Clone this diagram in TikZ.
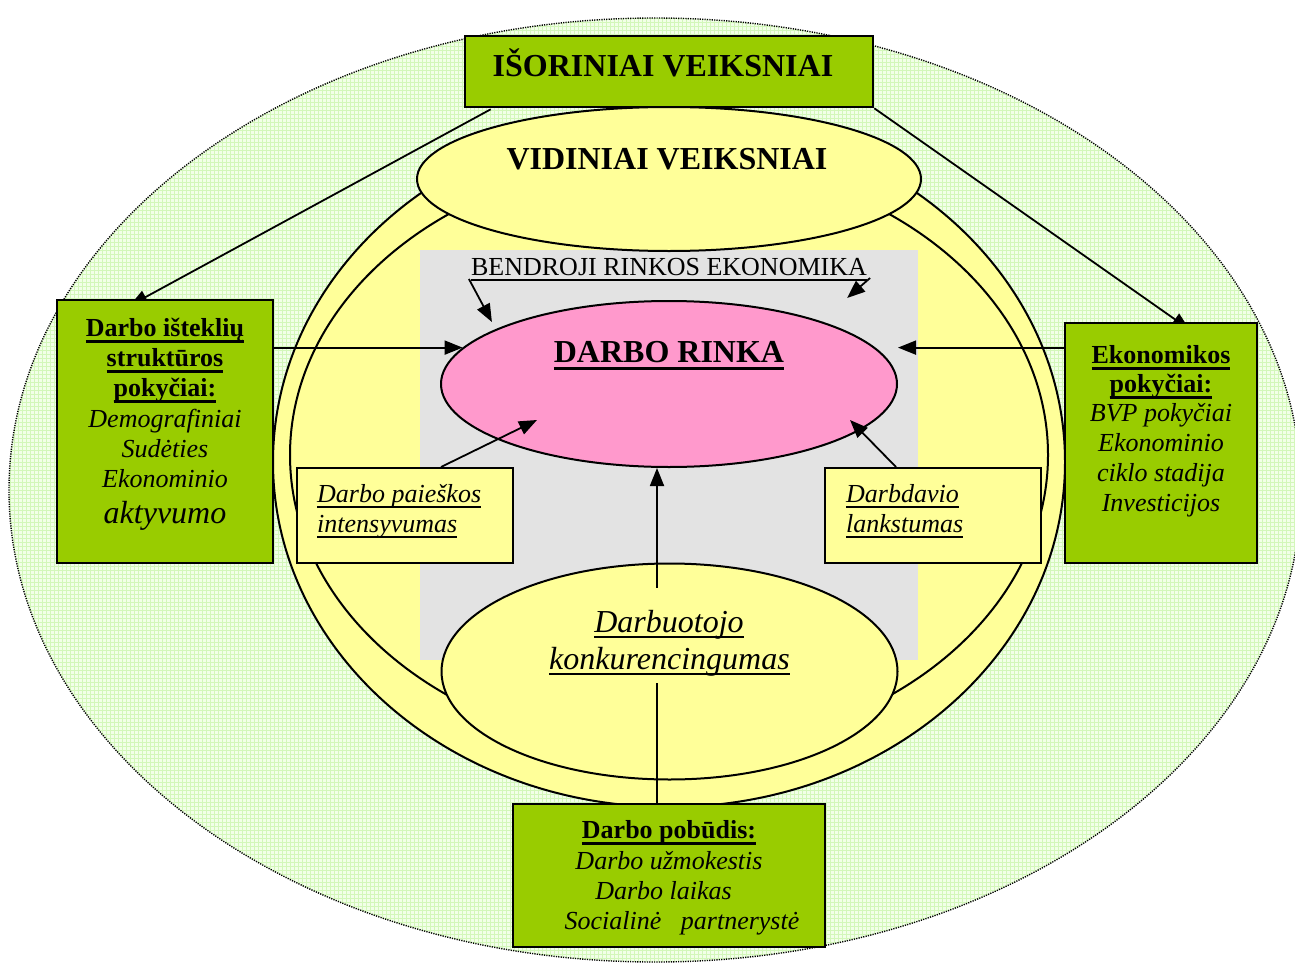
\documentclass[tikz,border=0pt]{standalone}
\usepackage{fontspec}
\setmainfont{Liberation Serif}
\usetikzlibrary{arrows.meta,calc,shapes.geometric}
\pgfdeclarelayer{bg}
\pgfdeclarelayer{mid}
\pgfsetlayers{bg,mid,main}

\definecolor{boxgreen}{HTML}{99CC00}
\definecolor{paleyellow}{HTML}{FFFF99}
\definecolor{rosepink}{HTML}{FF99CC}
\definecolor{panelgrey}{HTML}{E3E3E3}
\definecolor{meadow}{HTML}{F2FFE8}
\definecolor{meadowgrid}{HTML}{D3F7BA}

% underline at a fixed depth below the baseline: depth, thickness, text
\newcommand{\undl}[3]{\setbox0\hbox{#3}\rlap{\rule[-#1]{\wd0}{#2}}\box0}

\tikzset{
  oval/.style={draw, line width=2pt, ellipse, inner sep=0pt},
  gbox/.style={draw, line width=2.6pt, fill=boxgreen, rectangle, inner sep=0pt},
  ybox/.style={draw, line width=2pt, fill=paleyellow, rectangle, inner sep=0pt},
  arr/.style={line width=1.8pt, -{Triangle[length=18pt,width=14pt]}},
  plain/.style={line width=1.8pt},
  big/.style={font=\fontsize{32}{37}\selectfont\bfseries, inner sep=0pt, anchor=base},
  tb/.style={font=\fontsize{26}{30}\selectfont\bfseries, inner sep=0pt, anchor=base},
  ti/.style={font=\fontsize{26}{30}\selectfont\itshape, inner sep=0pt, anchor=base},
  tibig/.style={font=\fontsize{32}{37}\selectfont\itshape, inner sep=0pt, anchor=base},
  tr/.style={font=\fontsize{26}{30}\selectfont, inner sep=0pt, anchor=base},
}

\begin{document}
\begin{tikzpicture}[x=1pt,y=-1pt]
\useasboundingbox (0,0) rectangle (1295,966);

\begin{pgfonlayer}{bg}
  % outer field with its fine grid and dotted rim
  \begin{scope}
    \clip (655,490) ellipse [x radius=646pt, y radius=472pt];
    \fill[meadow] (0,0) rectangle (1302,966);
    \foreach \i in {2,6,...,1302} \draw[meadowgrid, line width=0.6pt] (\i,0) -- (\i,966);
    \foreach \j in {2,6,...,966} \draw[meadowgrid, line width=0.6pt] (0,\j) -- (1302,\j);
  \end{scope}
  \draw[line width=1.4pt, dash pattern=on 1.2pt off 1.2pt] (655,490) ellipse [x radius=646pt, y radius=472pt];

  % the two yellow rings
  \node[oval, fill=paleyellow, minimum width=792pt, minimum height=690pt] (ringout) at (669,462) {};
  \node[oval, fill=paleyellow, minimum width=758pt, minimum height=592pt] (ringin) at (669,455) {};
\end{pgfonlayer}

% grey panel of the general market economy
\node[fill=panelgrey, minimum width=498pt, minimum height=410pt, inner sep=0pt] (panel) at (669,455) {};

% ellipses
\node[oval, fill=paleyellow, minimum width=504pt, minimum height=144pt] (vid) at (669,179) {};
\node[oval, fill=rosepink, minimum width=456pt, minimum height=166pt] (rinka) at (669,384) {};
\node[oval, fill=paleyellow, minimum width=456pt, minimum height=216pt] (konk) at (669.5,671.5) {};

% boxes
\node[gbox, minimum width=408pt, minimum height=71pt] (isor) at (669,71.5) {};
\node[gbox, minimum width=216pt, minimum height=263pt] (lbox) at (165,431.5) {};
\node[gbox, minimum width=192pt, minimum height=240pt] (rbox) at (1161,443) {};
\node[gbox, minimum width=312pt, minimum height=143pt] (pob) at (669,875.5) {};
\node[ybox, minimum width=216pt, minimum height=95pt] (pbox) at (405,515.5) {};
\node[ybox, minimum width=216pt, minimum height=95pt] (dbox) at (933,515.5) {};

% connectors from the external factors, tucked under the boxes
\begin{pgfonlayer}{mid}
  \draw[arr] ($(isor.south west)+(27,1)$) -- ($(lbox.north west)+(74,7)$);
  \draw[arr] (isor.south east) -- ($(rbox.north west)+(126,8)$);
\end{pgfonlayer}

% titles
\node[big] (isortxt) at (663,77) {IŠORINIAI VEIKSNIAI};
\node[big] (vidtxt) at (667,169) {VIDINIAI VEIKSNIAI};
\node[tr] (bend) at (669,275) {\undl{6pt}{1.6pt}{BENDROJI RINKOS EKONOMIKA}};
\node[big] (rinkatxt) at (669,362) {\undl{8pt}{3.5pt}{DARBO RINKA}};

% labour resources box
\node[tb] (l1) at (165,336) {\undl{6.5pt}{2.8pt}{Darbo išteklių}};
\node[tb] (l2) at (165,366) {\undl{6.5pt}{2.8pt}{struktūros}};
\node[tb] (l3) at (165,396) {\undl{6.5pt}{2.8pt}{pokyčiai:}};
\node[ti] (l4) at (165,427) {Demografiniai};
\node[ti] (l5) at (165,457) {Sudėties};
\node[ti] (l6) at (165,487) {Ekonominio};
\node[tibig] (l7) at (165,523) {aktyvumo};

% economy box
\node[tb] (r1) at (1161,363) {\undl{6.5pt}{2.8pt}{Ekonomikos}};
\node[tb] (r2) at (1161,392) {\undl{6.5pt}{2.8pt}{pokyčiai:}};
\node[ti] (r3) at (1161,421) {BVP pokyčiai};
\node[ti] (r4) at (1161,451) {Ekonominio};
\node[ti] (r5) at (1161,481) {ciklo stadija};
\node[ti] (r6) at (1161,511) {Investicijos};

% nature of work box
\node[tb] (b1) at (669,838) {\undl{6.5pt}{2.8pt}{Darbo pobūdis:}};
\node[ti] (b2) at (669,869) {Darbo užmokestis};
\node[ti] (b3) at (663.5,899) {Darbo laikas};
\node[ti] (b4) at (682,929) {Socialinė\hspace{0.5em} partnerystė};

% small yellow boxes
\node[ti, anchor=base west] (p1) at (317,502) {\undl{5.5pt}{1.8pt}{Darbo paieškos}};
\node[ti, anchor=base west] (p2) at (317,532) {\undl{5.5pt}{1.8pt}{intensyvumas}};
\node[ti, anchor=base west] (d1) at (846,502) {\undl{5.5pt}{1.8pt}{Darbdavio}};
\node[ti, anchor=base west] (d2) at (846,532) {\undl{5.5pt}{1.8pt}{lankstumas}};

% employee competitiveness
\node[tibig] (k1) at (669,632) {\undl{5.5pt}{2pt}{Darbuotojo}};
\node[tibig] (k2) at (669.5,669) {\undl{5.5pt}{2pt}{konkurencingumas}};

% connectors into the labour market
\draw[arr] ($(bend.base west)+(-2,4)$) -- ($(bend.base west)+(21,47)$);
\draw[arr] ($(bend.base east)+(3,3)$) -- ($(bend.base east)+(-20,23)$);
\draw[arr] (lbox.east |- rinka.170) -- (rinka.170);
\draw[arr] (rbox.west |- rinka.10) -- (rinka.east |- rinka.10);
\draw[arr] ($(pbox.north west)+(145,0)$) -- ($(rinka.center)+(-132,36)$);
\draw[arr] ($(dbox.north west)+(72,0)$) -- ($(rinka.center)+(181,36)$);
\draw[arr] ($(konk.center)+(-12.5,-84)$) coordinate (kup) -- (kup |- rinka.south);
\draw[plain] ($(konk.center)+(-12.5,11.5)$) coordinate (kdn) -- (kdn |- pob.north);
\end{tikzpicture}
\end{document}
